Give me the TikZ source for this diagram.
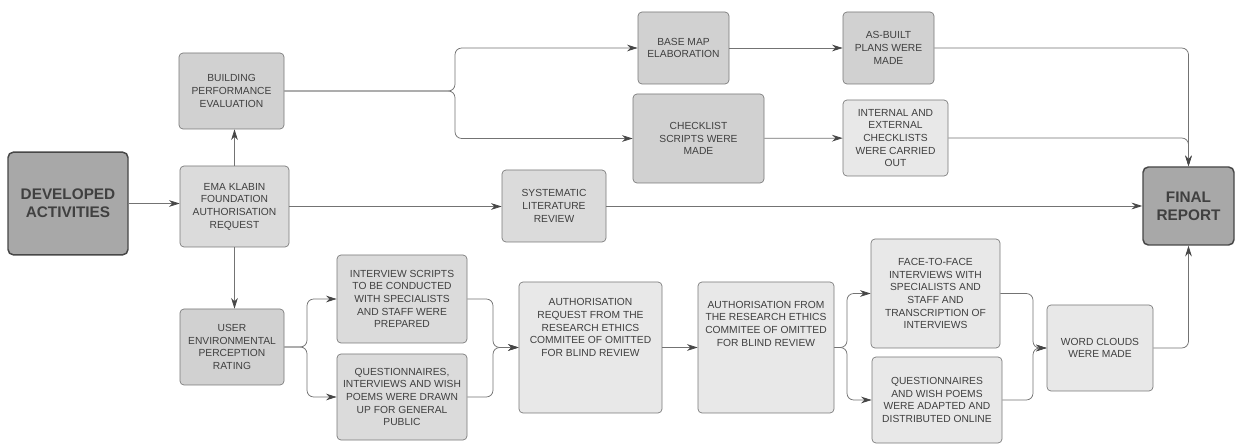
\documentclass[tikz,border=0pt]{standalone}
\usepackage{fontspec}
\setmainfont{Liberation Sans}
\usetikzlibrary{arrows.meta}

\begin{document}
\begin{tikzpicture}[
    x=0.75pt, y=-0.75pt,
    box/.style ={
        draw=black!53,
        fill=black!18,
        rounded corners=3pt,
        text=black!75,
        align=center,
        line width=0.5pt,
        inner sep=2pt,
        font=\fontsize{7.7}{9.5}\selectfont
    },
    soft/.style ={box, fill=black!14},
    pale/.style ={box, fill=black!9},
    big/.style ={
        box,
        fill=black!34,
        draw=black!72,
        line width=1.1pt,
        rounded corners=4pt,
        font=\fontsize{11.5}{13.7}\selectfont\bfseries
    },
    link/.style ={draw=black!55, line width=0.55pt, rounded corners=5pt},
    arr/.style ={link, -{Stealth[length=8pt,width=5pt,color=black!72]}}
    ]
    \useasboundingbox[fill=white] (0,0) rectangle (1236,445);

    \node[big, minimum width=90pt, minimum height=77pt] (dev) at (68,203.5) {DEVELOPED\\ACTIVITIES};
    \node[soft, minimum width=81.75pt, minimum height=60.75pt] (ema) at (234.5,206.5) {EMA KLABIN\\FOUNDATION\\AUTHORISATION\\REQUEST};
    \node[box, minimum width=78.75pt, minimum height=57pt] (bpe) at (231.5,91) {BUILDING\\PERFORMANCE\\EVALUATION};
    \node[box, minimum width=68.25pt, minimum height=54pt] (map) at (683.5,48) {BASE MAP\\ELABORATION};
    \node[box, minimum width=98.25pt, minimum height=66.75pt] (check) at (698.5,138.5) {CHECKLIST\\SCRIPTS WERE\\MADE};
    \node[box, minimum width=68.25pt, minimum height=54pt] (built) at (888.5,48) {AS-BUILT\\PLANS WERE\\MADE};
    \node[pale, minimum width=78.75pt, minimum height=57pt] (intern) at (895.5,138) {INTERNAL AND\\EXTERNAL\\CHECKLISTS\\WERE CARRIED\\OUT};
    \node[soft, minimum width=78pt, minimum height=54pt] (review) at (554,206) {SYSTEMATIC\\LITERATURE\\REVIEW};
    \node[big, minimum width=68.25pt, minimum height=58.5pt] (final) at (1188.5,206) {FINAL\\REPORT};

    \node[box, minimum width=78pt, minimum height=57pt] (user) at (232,347) {USER\\ENVIRONMENTAL\\PERCEPTION\\RATING};
    \node[soft, minimum width=97.5pt, minimum height=66pt] (scripts) at (402,299) {INTERVIEW SCRIPTS\\TO BE CONDUCTED\\WITH SPECIALISTS\\AND STAFF WERE\\PREPARED};
    \node[soft, minimum width=97.5pt, minimum height=64.5pt] (quest) at (402,397) {QUESTIONNAIRES,\\INTERVIEWS AND WISH\\POEMS WERE DRAWN\\UP FOR GENERAL\\PUBLIC};
    \node[pale, minimum width=107.25pt, minimum height=98.25pt, text depth=30pt] (authreq) at (590.5,347.5) {AUTHORISATION\\REQUEST FROM THE\\RESEARCH ETHICS\\COMMITEE OF OMITTED\\FOR BLIND REVIEW};
    \node[pale, minimum width=102pt, minimum height=98.25pt, text depth=36pt] (authok) at (766,347.5) {AUTHORISATION FROM\\THE RESEARCH ETHICS\\COMMITEE OF OMITTED\\FOR BLIND REVIEW};
    \node[pale, minimum width=96.75pt, minimum height=81.75pt] (face) at (935.5,293.5) {FACE-TO-FACE\\INTERVIEWS WITH\\SPECIALISTS AND\\STAFF AND\\TRANSCRIPTION OF\\INTERVIEWS};
    \node[pale, minimum width=97.5pt, minimum height=64.5pt] (online) at (937,400) {QUESTIONNAIRES\\AND WISH POEMS\\WERE ADAPTED AND\\DISTRIBUTED ONLINE};
    \node[pale, minimum width=79.5pt, minimum height=64.5pt] (clouds) at (1100,348) {WORD CLOUDS\\WERE MADE};

    % branch points
    \coordinate (bpejoin) at (455,91);
    \coordinate (userjoin) at (307,347);
    \coordinate (questjoin) at (493,347.5);
    \coordinate (authjoin) at (847,347.5);
    \coordinate (cloudjoin) at (1033,348);

    \draw[arr] (dev.east) -- (dev.east -| ema.west);
    \draw[arr] (ema.north) -- (ema.north |- bpe.south);
    \draw[arr] (ema.south) -- (ema.south |- user.north);
    \draw[arr] (ema.east) -- (ema.east -| review.west);
    \draw[arr] (review) -- (final);

    \foreach \src/ \dst in {map/built, check/intern, authreq/authok}
        \draw[arr] (\src) -- (\dst);

    \foreach \dst in {map, check}
        \draw[arr] (bpe.east) -- (bpejoin) |- (\dst.west);
    \foreach \src in {built, intern}
        \draw[arr] (\src.east) -| (final.north);
    \draw[arr] (clouds.east) -| (final.south);

    \foreach \dst in {scripts, quest}
        \draw[arr] (user.east) -- (userjoin) |- (\dst.west);
    \foreach \src in {scripts, quest}
        \draw[arr] (\src.east) -| (questjoin) -- (authreq.west);

    \foreach \dst in {face, online}
        \draw[arr] (authok.east) -- (authjoin) |- (\dst.west);
    \foreach \src in {face, online}
        \draw[arr] (\src.east) -| (cloudjoin) -- (clouds.west);

\end{tikzpicture}
\end{document}
